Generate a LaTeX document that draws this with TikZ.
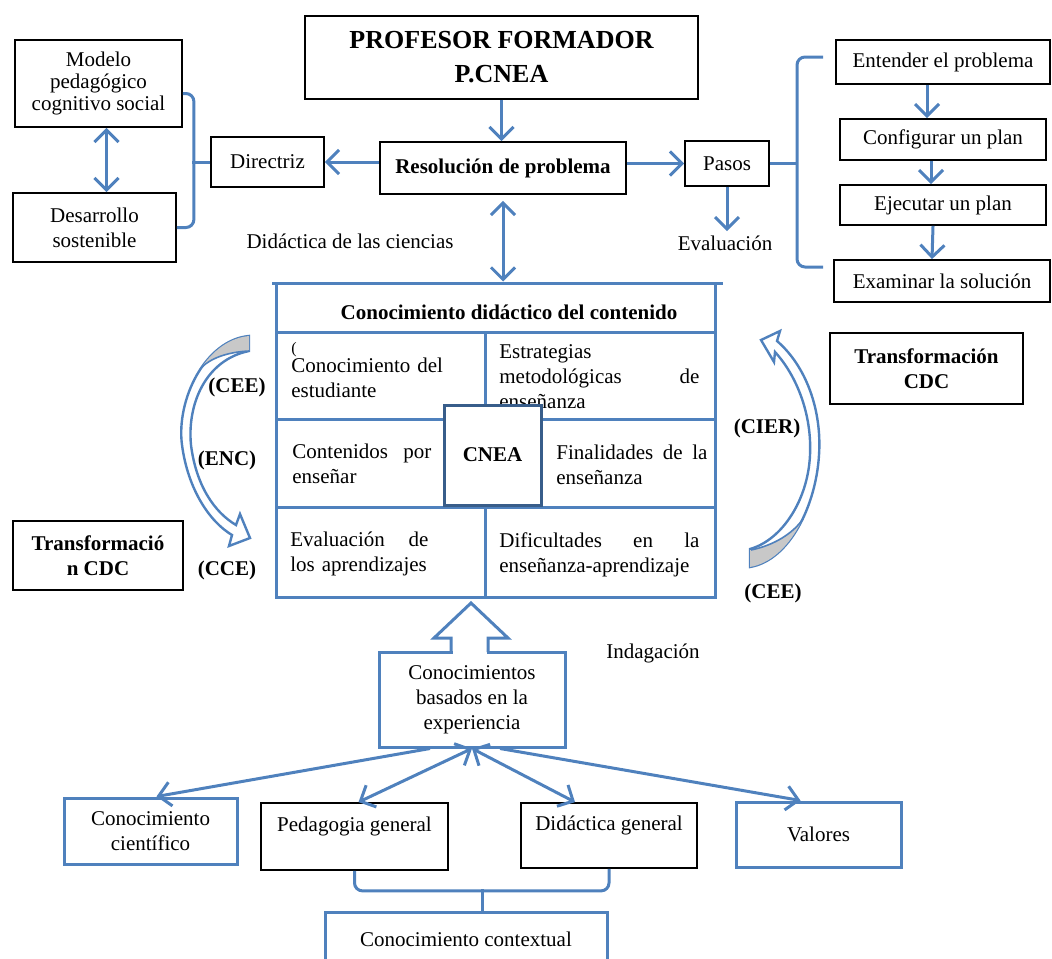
\documentclass[tikz,border=0pt]{standalone}
\usepackage{fontspec}
\setmainfont{Liberation Serif}
\usepackage{color}
\usepackage{tikz}
\usetikzlibrary{arrows.meta}
\definecolor{azul}{RGB}{79,129,189}
\definecolor{azuloscuro}{RGB}{56,93,138}
\definecolor{gris}{RGB}{200,200,200}

\begin{document}
\fontsize{10.5}{12.5}\selectfont
\begin{tikzpicture}[x=0.5pt,y=-0.5pt,>={Straight Barb[length=6pt,width=12pt]},
		black box/.style={draw,line width=0.9pt,align=center,inner sep=0pt},
		blue box/.style={draw=azul,line width=1.5pt,align=center,inner sep=0pt},
		cell text/.style={anchor=west,align=left,inner sep=0pt},
		flecha/.style={->,draw=azul,line width=1.5pt},
		doble/.style={<->,draw=azul,line width=1.5pt},
		llave/.style={draw=azul,line width=1.5pt,rounded corners=4pt},
		tabla/.style={draw=azul,line width=1.5pt},
		curva/.style={draw=azul,line width=1.2pt,fill=white}]
		
		\useasboundingbox (0,0) rectangle (1052,958);
		
		\node[black box,minimum width=196.5pt,minimum height=41.5pt,font=\fontsize{13}{17}\selectfont\bfseries] (profesor) at (501.5,57.5) {PROFESOR FORMADOR\\P.CNEA};
		\node[black box,minimum width=123pt,minimum height=26pt,font=\bfseries] (resolucion) at (503,168) {Resolución de problema};
		\node[black box,minimum width=56.5pt,minimum height=25pt] (directriz) at (267.5,162) {Directriz};
		\node[black box,minimum width=83.5pt,minimum height=43.5pt,font=\fontsize{10.5}{11}\selectfont] (modelo) at (98.5,83.5) {Modelo\\pedagógico\\cognitivo social};
		\node[black box,minimum width=81.5pt,minimum height=34.5pt] (desarrollo) at (94.5,227.5) {Desarrollo\\sostenible};
		\node[black box,minimum width=42pt,minimum height=22.5pt] (pasos) at (727,163.5) {Pasos};
		\node[inner sep=2pt] (evaluacion) at (725,243) {Evaluación};
		\node (ciencias) at (350,241) {Didáctica de las ciencias};
		\node[black box,minimum width=107pt,minimum height=22pt] (entender) at (943,62) {Entender el problema};
		\node[black box,minimum width=103pt,minimum height=20.5pt] (configurar) at (943,139.5) {Configurar un plan};
		\node[black box,minimum width=103pt,minimum height=20pt] (ejecutar) at (943,205) {Ejecutar un plan};
		\node[black box,minimum width=108pt,minimum height=21pt] (examinar) at (942,281) {Examinar la solución};
		\coordinate (llave arriba) at (823,57);
		\coordinate (llave abajo) at (823,267);
		
		\draw[flecha] (profesor.south) -- (profesor.south |- resolucion.north);
		\draw[flecha] (resolucion.west |- directriz) -- (directriz.east);
		\draw[flecha] (resolucion.east |- pasos) -- (pasos.west);
		\draw[flecha] (pasos.south) -- (pasos.south |- evaluacion.north);
		\draw[doble] ([xshift=4pt]modelo.south) -- ([xshift=4pt]modelo.south |- desarrollo.north);
		\draw[llave] ([yshift=-5pt]modelo.east) -- ++(11,0) |- (desarrollo.east);
		\draw[llave] (directriz.west) -- ++(-18,0);
		\draw[llave] (llave arriba) -- ++(-26,0) |- (llave abajo);
		\draw[llave] (pasos.east) -- ++(28,0);
		\draw[flecha] ([xshift=-8pt]entender.south) -- ([xshift=-8pt]configurar.north);
		\draw[flecha] ([xshift=-6pt]configurar.south) -- ([xshift=-6pt]ejecutar.north);
		\draw[flecha] ([xshift=-5pt]ejecutar.south) -- ([xshift=-5pt]examinar.north);
		
		\node[tabla,minimum width=219.5pt,minimum height=157pt,inner sep=0pt] (cdc) at (495.5,440) {};
		\draw[tabla] (272,283) -- (723,283);
		\draw[tabla] (276,332) -- (715,332);
		\draw[tabla] (276,419) -- (715,419);
		\draw[tabla] (276,507) -- (715,507);
		\draw[tabla] (485,332) -- (485,597);
		\draw[doble] ([yshift=-3pt]resolucion.south) -- (resolucion.south |- cdc.north);
		
		\node[font=\bfseries] (encabezado) at (509,312) {Conocimiento didáctico del contenido};
		\node[inner sep=0pt,font=\fontsize{8}{9}\selectfont] (parentesis) at (294,350) {(};
		\node[cell text,text width=78pt] (estudiante) at (291,378) {Conocimiento del\\estudiante};
		\node[cell text,text width=100pt] (estrategias) at (499,377) {Estrategias\\metodológicas\hfill de\\enseñanza};
		\node[cell text,text width=69.5pt] (contenidos) at (292,464) {Contenidos\hfill por\\enseñar};
		\node[cell text,text width=75.5pt] (finalidades) at (556,465) {Finalidades\hfill de\hfill la\\enseñanza};
		\node[cell text,text width=69pt] (aprendizajes) at (290,554) {Evaluación\hfill de\\los aprendizajes};
		\node[cell text,text width=100pt] (dificultades) at (499,555) {Dificultades\hfill en\hfill la\\enseñanza-aprendizaje};
		\node[draw=azuloscuro,line width=1.5pt,fill=white,minimum width=48.5pt,minimum height=50pt,font=\bfseries] (cnea) at (492.5,455) {CNEA};
		
		\filldraw[curva] (249,336) .. controls (205,340) and (176,400) .. (182,445) .. controls (188,490) and (210,522) .. (232,535) -- (229,546) -- (250,538) -- (240,514) -- (236,525) .. controls (214,512) and (196,485) .. (191,445) .. controls (187,405) and (205,360) .. (249,351) -- cycle;
		\begin{scope}
			\clip (249,336) .. controls (205,340) and (176,400) .. (182,445) .. controls (187,405) and (205,360) .. (249,351) -- cycle;
			\fill[gris] (249,351) .. controls (228,352) and (210,358) .. (200,369) -- (170,369) -- (170,325) -- (260,325) -- (260,351) -- cycle;
		\end{scope}
		\draw[azul,line width=0.8pt] (249,351) .. controls (228,352) and (210,358) .. (200,369);
		
		\filldraw[curva] (761,340) -- (780,331) -- (777,341) .. controls (806,366) and (822,410) .. (819,455) .. controls (816,505) and (790,560) .. (750,567) -- (750,549) .. controls (782,540) and (808,500) .. (810,455) .. controls (812,415) and (797,376) .. (775,352) -- (774,362) -- cycle;
		\begin{scope}
			\clip (819,455) .. controls (816,505) and (790,560) .. (750,567) -- (750,549) .. controls (782,540) and (808,500) .. (810,455) -- cycle;
			\fill[gris] (751,550) .. controls (775,545) and (793,533) .. (803,519) -- (840,519) -- (840,580) -- (740,580) -- (740,550) -- cycle;
		\end{scope}
		\draw[azul,line width=0.8pt] (751,550) .. controls (775,545) and (793,533) .. (803,519);
		
		\node[font=\bfseries] (cee izq) at (237,387) {(CEE)};
		\node[font=\bfseries] (enc) at (227,460) {(ENC)};
		\node[font=\bfseries] (cce) at (227,570) {(CCE)};
		\node[font=\bfseries] (cier) at (767,428) {(CIER)};
		\node[font=\bfseries] (cee der) at (773,593) {(CEE)};
		\node[black box,minimum width=96.5pt,minimum height=35.5pt,font=\bfseries] (transf der) at (926.5,368.5) {Transformación\\CDC};
		\node[black box,minimum width=85pt,minimum height=34.5pt,font=\bfseries] (transf izq) at (98,555.5) {Transformació\\n CDC};
		
		\node[blue box,minimum width=93pt,minimum height=47.5pt] (conocimientos) at (472,699.5) {Conocimientos\\basados en la\\experiencia};
		\fill[white] (452.5,648) rectangle (486.5,656);
		\draw[tabla,line join=miter] (451,652) -- (451,638) -- (434,638) -- (471,603) -- (508,638) -- (488,638) -- (488,652);
		\node (indagacion) at (653,653) {Indagación};
		
		\node[blue box,minimum width=86.5pt,minimum height=33pt] (cientifico) at (150.5,831) {Conocimiento\\científico};
		\node[black box,minimum width=93.5pt,minimum height=33.5pt] (pedagogia) at (354.5,836.5) {Pedagogia general\\\mbox{}};
		\node[black box,minimum width=88pt,minimum height=32.5pt] (didactica) at (609,835.5) {Didáctica general\\\mbox{}};
		\node[blue box,minimum width=82.5pt,minimum height=32.5pt] (valores) at (818.5,834.5) {Valores};
		\node[blue box,minimum width=141pt,minimum height=27pt] (contextual) at (466,939) {Conocimiento contextual};
		
		\draw[flecha] ([xshift=-21pt]conocimientos.south) -- ([xshift=3pt]cientifico.north);
		\draw[doble] (conocimientos.south) -- ([xshift=2pt]pedagogia.north);
		\draw[doble] (conocimientos.south) -- ([xshift=-17pt]didactica.north);
		\draw[flecha] ([xshift=14pt]conocimientos.south) -- ([xshift=-9pt]valores.north);
		\draw[llave] (pedagogia.south) -- ++(0,20) -| (didactica.south);
		\draw[llave] ([xshift=8pt]contextual.north) -- ++(0,-22);
		
\end{tikzpicture}
\end{document}
